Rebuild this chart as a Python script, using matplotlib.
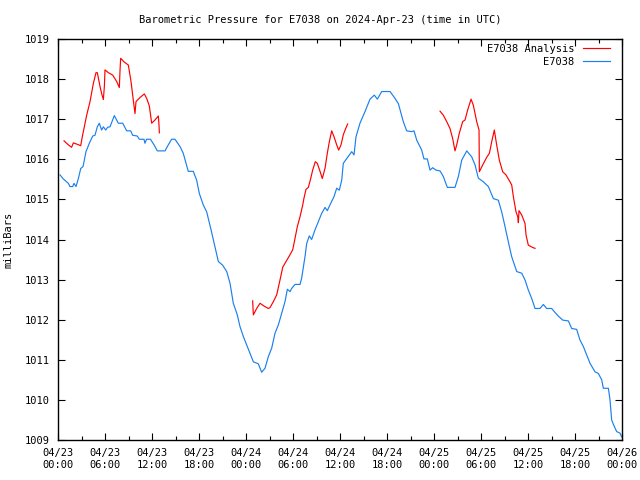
import matplotlib
matplotlib.use("Agg")
import matplotlib.pyplot as plt
from matplotlib.ticker import MultipleLocator, FixedLocator
import numpy as np

# Blue series: E7038 (hours since 04/23 00:00 UTC, mbar)
obs_hours = [0.26, 0.68, 1.32, 1.53, 1.87, 2.04, 2.3, 2.6, 2.9, 3.2, 3.57, 4.0, 4.43, 4.72, 5.02, 5.27,
             5.57, 5.79, 6.09, 6.34, 6.64, 7.19, 7.7, 8.26, 8.77, 9.28, 9.53, 10.12, 10.38, 10.98, 11.1,
             11.3, 11.8, 12.26, 12.68, 13.66, 14.08, 14.5, 14.93, 15.57, 15.99, 16.63, 17.27, 17.7, 18.04,
             18.55, 18.98, 19.53, 20.04, 20.47, 21.02, 21.54, 21.96, 22.38, 22.89, 23.23, 23.66, 24.09,
             24.51, 24.94, 25.57, 26.0, 26.43, 26.85, 27.28, 27.7, 28.13, 28.55, 28.98, 29.28, 29.62,
             29.83, 30.26, 30.9, 31.1, 31.53, 31.75, 32.08, 32.38, 32.81, 33.23, 33.66, 34.09, 34.38,
             34.81, 35.24, 35.58, 35.91, 36.22, 36.42, 36.86, 37.5, 37.79, 38.04, 38.55, 39.19, 39.83,
             40.38, 40.77, 41.32, 42.39, 43.02, 43.45, 44.08, 44.51, 45.15, 45.45, 45.79, 46.43, 46.72,
             47.15, 47.49, 47.83, 48.26, 48.77, 49.19, 49.7, 50.68, 51.11, 51.54, 52.18, 52.82, 53.24,
             53.66, 54.3, 54.94, 55.58, 56.21, 56.64, 57.07, 57.49, 57.92, 58.56, 59.2, 59.62, 60.04,
             60.47, 60.9, 61.53, 61.96, 62.38, 63.02, 63.45, 63.87, 64.43, 65.15, 65.58, 66.21, 66.64,
             67.07, 67.5, 67.92, 68.56, 68.98, 69.41, 69.62, 70.26, 70.47, 70.68, 70.9, 71.32, 71.75, 71.95]
obs_mbar = [1015.61, 1015.51, 1015.40, 1015.32, 1015.32, 1015.40, 1015.32, 1015.52, 1015.77, 1015.82,
            1016.19, 1016.40, 1016.58, 1016.60, 1016.81, 1016.90, 1016.73, 1016.81, 1016.73, 1016.80,
            1016.81, 1017.09, 1016.90, 1016.90, 1016.71, 1016.71, 1016.60, 1016.58, 1016.50, 1016.50,
            1016.40, 1016.50, 1016.50, 1016.36, 1016.21, 1016.21, 1016.36, 1016.50, 1016.50, 1016.32,
            1016.15, 1015.70, 1015.70, 1015.48, 1015.15, 1014.86, 1014.69, 1014.25, 1013.82, 1013.45,
            1013.36, 1013.20, 1012.91, 1012.41, 1012.12, 1011.83, 1011.58, 1011.37, 1011.16, 1010.95,
            1010.90, 1010.69, 1010.79, 1011.08, 1011.29, 1011.66, 1011.87, 1012.16, 1012.45, 1012.76,
            1012.70, 1012.78, 1012.88, 1012.88, 1013.03, 1013.57, 1013.90, 1014.09, 1014.00, 1014.24,
            1014.44, 1014.65, 1014.80, 1014.72, 1014.90, 1015.07, 1015.28, 1015.23, 1015.48, 1015.90,
            1016.02, 1016.19, 1016.11, 1016.56, 1016.90, 1017.19, 1017.50, 1017.60, 1017.50, 1017.69,
            1017.69, 1017.52, 1017.39, 1016.94, 1016.71, 1016.69, 1016.71, 1016.48, 1016.23, 1016.01,
            1016.01, 1015.73, 1015.79, 1015.73, 1015.71, 1015.57, 1015.30, 1015.30, 1015.57, 1015.98,
            1016.21, 1016.06, 1015.86, 1015.53, 1015.44, 1015.32, 1015.02, 1014.98, 1014.69, 1014.32,
            1013.94, 1013.57, 1013.20, 1013.16, 1012.99, 1012.74, 1012.53, 1012.28, 1012.28, 1012.38,
            1012.28, 1012.28, 1012.18, 1012.09, 1011.99, 1011.97, 1011.78, 1011.76, 1011.49, 1011.33,
            1011.12, 1010.91, 1010.70, 1010.66, 1010.50, 1010.29, 1010.29, 1010.00, 1009.50, 1009.39,
            1009.21, 1009.17, 1009.08]

# Red series: E7038 Analysis, three separate segments
ana1_hours = [0.77, 1.32, 1.74, 1.96, 2.38, 2.9, 3.1, 3.66, 4.09, 4.51, 4.85, 5.02, 5.36, 5.57, 5.79,
              5.92, 6.0, 6.43, 6.98, 7.49, 7.83, 7.92, 8.0, 8.43, 8.98, 9.32, 9.61, 9.83, 9.96, 10.47,
              11.02, 11.32, 11.66, 11.96, 12.38, 12.81, 12.89, 12.94]
ana1_mbar = [1016.46, 1016.36, 1016.30, 1016.41, 1016.38, 1016.34, 1016.56, 1017.10, 1017.44, 1017.89,
             1018.16, 1018.16, 1017.82, 1017.64, 1017.49, 1017.82, 1018.23, 1018.16, 1018.10, 1017.94,
             1017.79, 1018.23, 1018.52, 1018.43, 1018.35, 1017.94, 1017.48, 1017.14, 1017.44, 1017.54,
             1017.63, 1017.52, 1017.33, 1016.90, 1016.98, 1017.08, 1016.86, 1016.66]
ana2_hours = [24.85, 24.94, 25.36, 25.79, 26.3, 26.85, 27.06, 27.49, 27.92, 28.34, 28.69, 29.11, 29.53,
              29.96, 30.26, 30.55, 30.9, 31.24, 31.4, 31.66, 31.96, 32.26, 32.51, 32.85, 33.1, 33.45,
              33.74, 34.09, 34.38, 34.64, 34.94, 35.24, 35.58, 35.83, 36.13, 36.42, 36.73, 36.98]
ana2_mbar = [1012.47, 1012.12, 1012.28, 1012.41, 1012.34, 1012.28, 1012.30, 1012.45, 1012.62, 1012.99,
             1013.31, 1013.45, 1013.59, 1013.74, 1014.03, 1014.32, 1014.57, 1014.86, 1015.03, 1015.25,
             1015.30, 1015.52, 1015.73, 1015.94, 1015.90, 1015.70, 1015.52, 1015.78, 1016.15, 1016.44,
             1016.71, 1016.56, 1016.36, 1016.23, 1016.36, 1016.61, 1016.77, 1016.88]
ana3_hours = [48.77, 49.19, 49.62, 50.04, 50.38, 50.68, 50.9, 51.23, 51.66, 51.96, 52.3, 52.73, 53.02,
              53.45, 53.75, 53.79, 54.22, 54.73, 55.07, 55.37, 55.7, 56.0, 56.34, 56.77, 57.19, 57.7,
              57.92, 58.13, 58.47, 58.69, 58.77, 58.85, 59.2, 59.62, 59.75, 60.04, 60.6, 60.9]
ana3_mbar = [1017.20, 1017.10, 1016.94, 1016.77, 1016.52, 1016.21, 1016.36, 1016.65, 1016.94, 1016.98,
             1017.23, 1017.50, 1017.35, 1016.94, 1016.73, 1015.69, 1015.86, 1016.05, 1016.15, 1016.44,
             1016.73, 1016.36, 1015.98, 1015.69, 1015.61, 1015.44, 1015.36, 1015.07, 1014.69, 1014.57,
             1014.42, 1014.72, 1014.61, 1014.40, 1014.11, 1013.86, 1013.80, 1013.78]

x_tick_hours = list(range(0, 73, 6))
x_tick_labels = ["04/23\n00:00", "04/23\n06:00", "04/23\n12:00", "04/23\n18:00",
                 "04/24\n00:00", "04/24\n06:00", "04/24\n12:00", "04/24\n18:00",
                 "04/25\n00:00", "04/25\n06:00", "04/25\n12:00", "04/25\n18:00",
                 "04/26\n00:00"]
y_ticks = list(range(1009, 1020))

RED = "#ff0000"
BLUE = "#1a80ee"
FONT = "DejaVu Sans Mono"
FS = 7.5
LW = 0.85

fig = plt.figure(figsize=(6.4, 4.8), dpi=100)
ax = fig.add_axes([58 / 640, 40 / 480, 564 / 640, 401 / 480])

ax.plot(ana1_hours, ana1_mbar, color=RED, lw=LW, label="E7038 Analysis")
ax.plot(ana2_hours, ana2_mbar, color=RED, lw=LW)
ax.plot(ana3_hours, ana3_mbar, color=RED, lw=LW)
ax.plot(obs_hours, obs_mbar, color=BLUE, lw=LW, label="E7038")

ax.set_xlim(0, 72)
ax.set_ylim(1009, 1019)
ax.xaxis.set_major_locator(FixedLocator(x_tick_hours))
ax.xaxis.set_minor_locator(MultipleLocator(3))
ax.set_xticks(x_tick_hours)
ax.set_xticklabels(x_tick_labels, fontfamily=FONT, fontsize=FS)
ax.set_yticks(y_ticks)
ax.set_yticklabels([str(v) for v in y_ticks], fontfamily=FONT, fontsize=FS)
ax.tick_params(which="both", direction="in", top=True, right=True, width=0.8, colors="black")
ax.tick_params(which="major", length=5, pad=6)
ax.tick_params(which="minor", length=3)
for s in ax.spines.values():
    s.set_linewidth(1.0)

ax.set_ylabel("milliBars", fontfamily=FONT, fontsize=FS, labelpad=8)
fig.text(0.5, 1 - 20 / 480, "Barometric Pressure for E7038 on 2024-Apr-23 (time in UTC)",
         ha="center", va="center", fontfamily=FONT, fontsize=FS)

leg = ax.legend(loc="upper right", bbox_to_anchor=(1 - 12 / 564, 1 - 5 / 401),
                frameon=False, markerfirst=False,
                prop={"family": FONT, "size": FS}, handlelength=2.6,
                borderaxespad=0.0, borderpad=0.0, labelspacing=0.3, handletextpad=0.8)
for t in leg.get_texts():
    t.set_ha("right")
leg._legend_box.align = "right"

fig.savefig("out.png", dpi=100)
